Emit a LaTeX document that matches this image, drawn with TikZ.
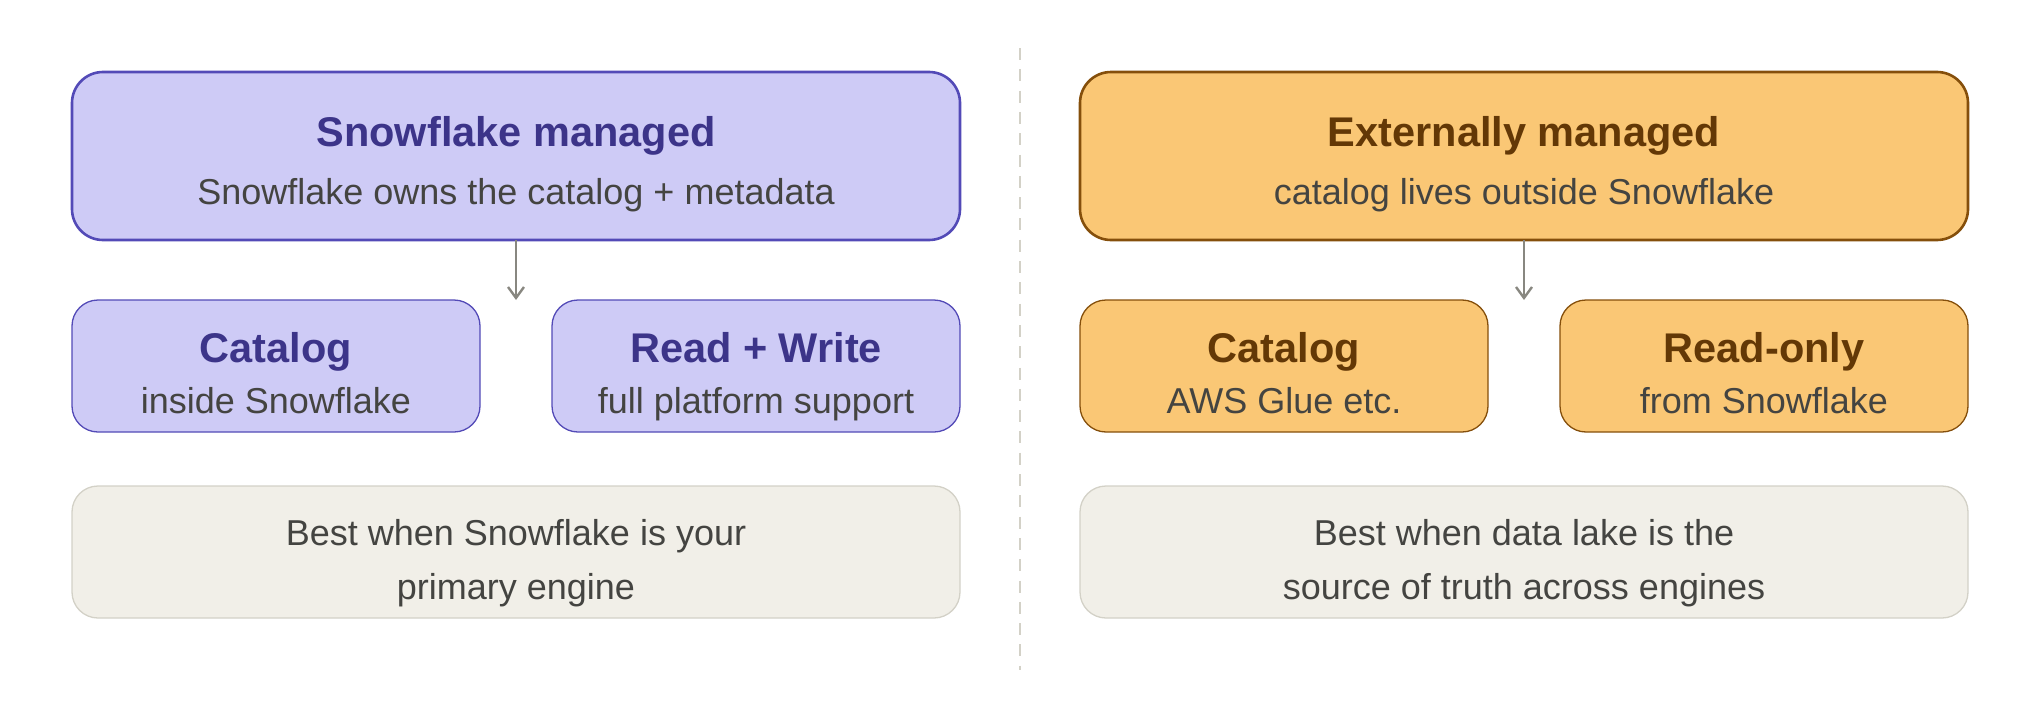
\documentclass[tikz,border=0pt]{standalone}
\usepackage{fontspec}
\setmainfont{Liberation Sans}
\usetikzlibrary{arrows.meta}
\definecolor{purpfill}{HTML}{CECBF6}
\definecolor{purpdraw}{HTML}{534AB7}
\definecolor{purptext}{HTML}{3C3489}
\definecolor{orfill}{HTML}{FAC775}
\definecolor{ordraw}{HTML}{854F0B}
\definecolor{ortext}{HTML}{633806}
\definecolor{grayfill}{HTML}{F1EFE8}
\definecolor{graydraw}{HTML}{D3D1C7}
\definecolor{bodytext}{HTML}{444441}
\definecolor{arrowgray}{HTML}{888780}
\begin{document}
\begin{tikzpicture}[x=1pt,y=-1pt,
  bigbox/.style={draw, line width=2.6pt, rounded corners=31pt, inner sep=0pt, outer sep=0pt,
    minimum width=888pt, minimum height=168pt, anchor=north west},
  smallbox/.style={draw, line width=1.3pt, rounded corners=26pt, inner sep=0pt, outer sep=0pt,
    minimum width=408pt, minimum height=132pt, anchor=north west},
  notebox/.style={draw=graydraw, fill=grayfill, line width=1.3pt, rounded corners=26pt, inner sep=0pt, outer sep=0pt,
    minimum width=888pt, minimum height=132pt, anchor=north west},
  purp/.style={draw=purpdraw, fill=purpfill},
  oran/.style={draw=ordraw, fill=orfill},
  ttl/.style={anchor=base, inner sep=0pt, font=\fontsize{41.5}{48}\selectfont\bfseries},
  sub/.style={anchor=base, inner sep=0pt, text=bodytext, font=\fontsize{36}{44}\selectfont},
  conn/.style={draw=arrowgray, line width=2.4pt, -{Straight Barb[length=11pt,width=16pt]}},
  divider/.style={draw=graydraw, line width=2pt, dash pattern=on 12pt off 9.3pt}
]
\useasboundingbox (0,0) rectangle (2040,720);

% divider
\coordinate (dtop) at (1020,48);
\coordinate (dbot) at (1020,670);
\draw[divider] (dtop) -- (dbot);

% left panel
\node[bigbox, purp] (lt) at (72,72) {};
\node[ttl, text=purptext] (ltt) at (516,146) {Snowflake managed};
\node[sub] (lts) at (516,204.5) {Snowflake owns the catalog + metadata};

\node[smallbox, purp] (lc) at (72,300) {};
\node[ttl, text=purptext] (lct) at (276,362) {Catalog};
\node[sub] (lcs) at (276,413) {inside Snowflake};

\node[smallbox, purp] (lr) at (552,300) {};
\node[ttl, text=purptext] (lrt) at (756,362) {Read + Write};
\node[sub] (lrs) at (756,413) {full platform support};

\node[notebox] (ln) at (72,486) {};
\node[sub] (ln1) at (516,545) {Best when Snowflake is your};
\node[sub] (ln2) at (516,599) {primary engine};

\coordinate (la) at (516,300);
\draw[conn] (lt.south) -- (la);

% right panel
\node[bigbox, oran] (rt) at (1080,72) {};
\node[ttl, text=ortext] (rtt) at (1524,146) {Externally managed};
\node[sub] (rts) at (1524,204.5) {catalog lives outside Snowflake};

\node[smallbox, oran] (rc) at (1080,300) {};
\node[ttl, text=ortext] (rct) at (1284,362) {Catalog};
\node[sub] (rcs) at (1284,413) {AWS Glue etc.};

\node[smallbox, oran] (rr) at (1560,300) {};
\node[ttl, text=ortext] (rrt) at (1764,362) {Read-only};
\node[sub] (rrs) at (1764,413) {from Snowflake};

\node[notebox] (rn) at (1080,486) {};
\node[sub] (rn1) at (1524,545) {Best when data lake is the};
\node[sub] (rn2) at (1524,599) {source of truth across engines};

\coordinate (ra) at (1524,300);
\draw[conn] (rt.south) -- (ra);
\end{tikzpicture}
\end{document}
